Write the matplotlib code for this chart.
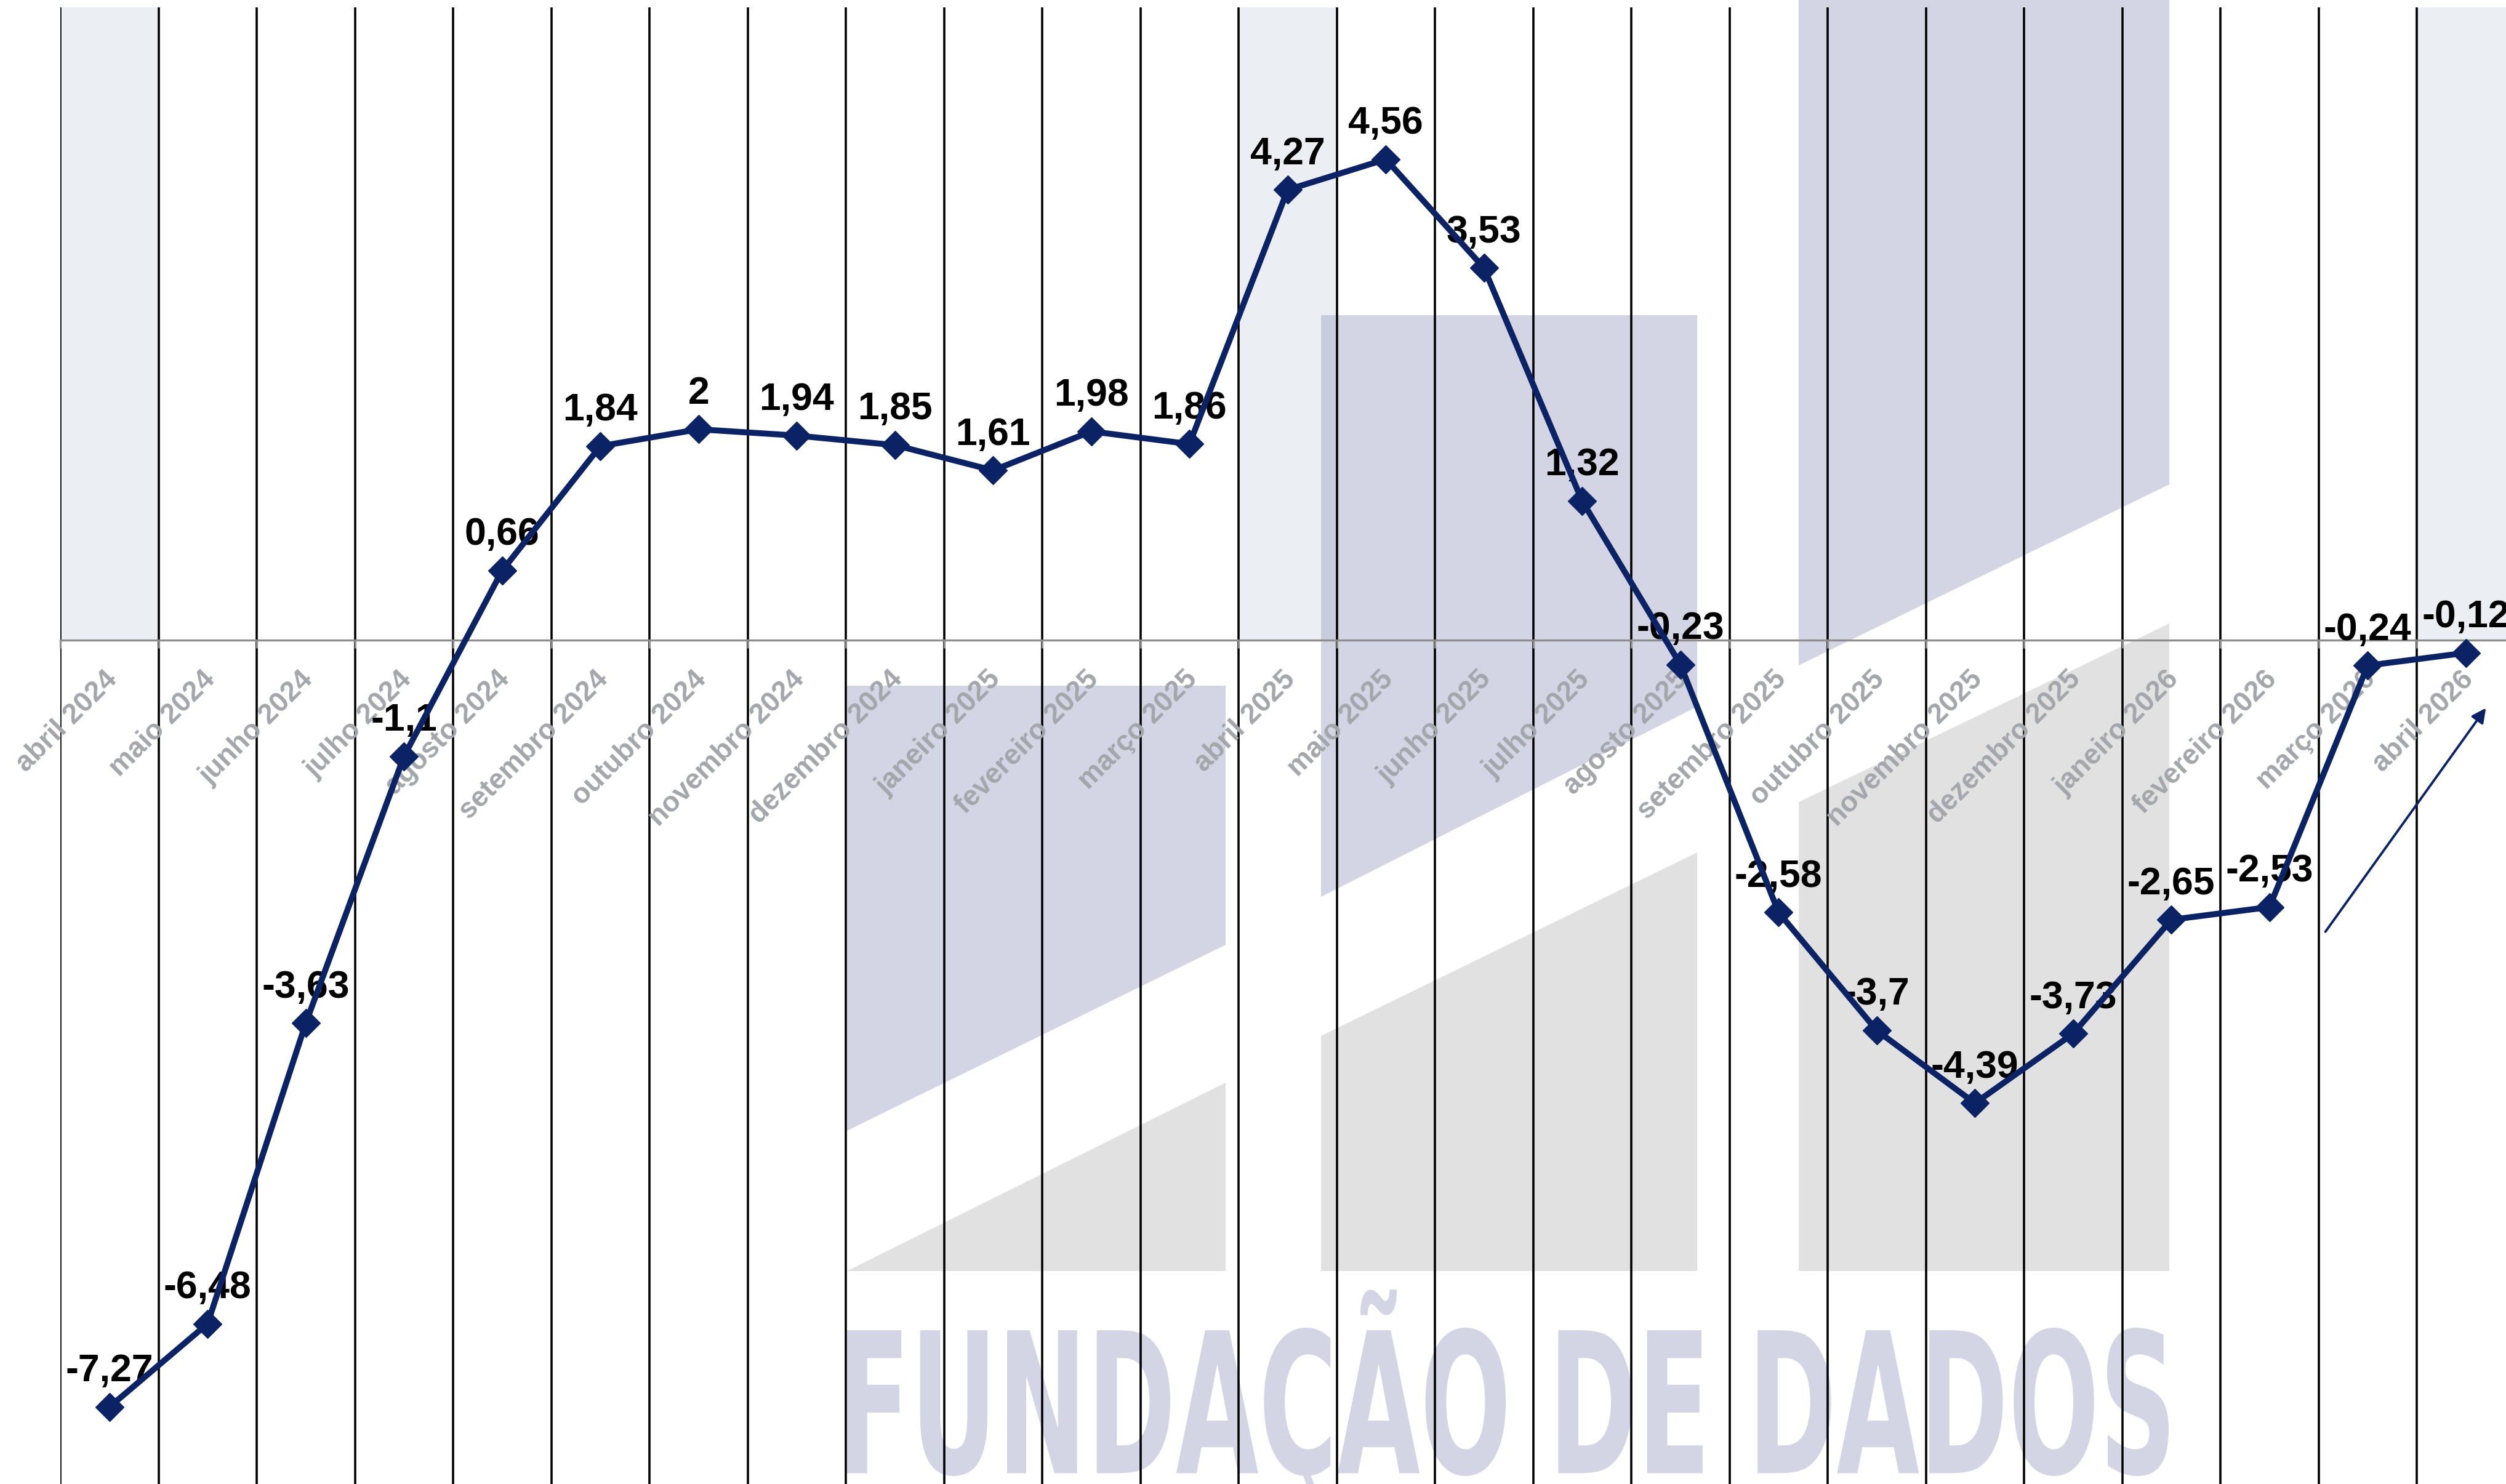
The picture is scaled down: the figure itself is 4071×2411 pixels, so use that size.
import numpy as np
import matplotlib
matplotlib.use("Agg")
import matplotlib.pyplot as plt
from matplotlib.patches import Polygon, PathPatch
from matplotlib.textpath import TextPath
from matplotlib.font_manager import FontProperties
from matplotlib.transforms import Affine2D

# data
months = ['abril 2024', 'maio 2024', 'junho 2024', 'julho 2024', 'agosto 2024',
          'setembro 2024', 'outubro 2024', 'novembro 2024', 'dezembro 2024',
          'janeiro 2025', 'fevereiro 2025', 'março 2025', 'abril 2025', 'maio 2025',
          'junho 2025', 'julho 2025', 'agosto 2025', 'setembro 2025', 'outubro 2025',
          'novembro 2025', 'dezembro 2025', 'janeiro 2026', 'fevereiro 2026',
          'março 2026', 'abril 2026']
values = [-7.27, -6.48, -3.63, -1.1, 0.66, 1.84, 2, 1.94, 1.85, 1.61, 1.98, 1.86,
          4.27, 4.56, 3.53, 1.32, -0.23, -2.58, -3.7, -4.39, -3.73, -2.65, -2.53,
          -0.24, -0.12]

NAVY = '#0b2265'
LAVENDER = '#d3d5e4'
LOGO_GRAY = '#e1e1e1'

plt.rcParams['font.family'] = ['Liberation Sans', 'DejaVu Sans']

W, H = 4071, 2411
fig = plt.figure(figsize=(W / 100, H / 100), dpi=100)
ax = fig.add_axes([98 / W, 0.0, (4085.5 - 98) / W, (H - 12) / H])
ax.set_xlim(-0.5, len(months) - 0.5)
ax.set_ylim(-8, 6)
ax.set_facecolor('none')

def fig_xy(x, y):
    # pixel coords (y down) -> figure fraction
    return (x / W, 1 - y / H)

# watermark logo (decoration, in figure pixels)
logo_shapes = [
    ([(1376, 1114), (1991, 1114), (1991, 1535), (1376, 1837)], LAVENDER),
    ([(1376, 2065), (1991, 2065), (1991, 1759)], LOGO_GRAY),
    ([(2146, 512), (2757, 512), (2757, 1148), (2146, 1457)], LAVENDER),
    ([(2146, 2065), (2757, 2065), (2757, 1385), (2146, 1683)], LOGO_GRAY),
    ([(2922, 0), (3524, 0), (3524, 787), (2922, 1081)], LAVENDER),
    ([(2922, 2065), (3524, 2065), (3524, 1013), (2922, 1303)], LOGO_GRAY),
]
for pts, col in logo_shapes:
    poly = Polygon([fig_xy(x, y) for x, y in pts], closed=True, facecolor=col,
                   edgecolor='none', transform=fig.transFigure, zorder=0.3, clip_on=False)
    ax.add_patch(poly)

fp = FontProperties(family='DejaVu Sans', weight='bold')
ref = TextPath((0, 0), 'FUNDACAO DE DADOS', size=100, prop=fp).get_extents()
tp = TextPath((0, 0), 'FUNDAÇÃO DE DADOS', size=100, prop=fp)
x0, x1, y0, y1 = 1376, 3523, 2398, 2157
sx = (x1 - x0) / ref.width
sy = (y0 - y1) / ref.height
trf = (Affine2D().translate(-ref.x0, -ref.y0).scale(sx / W, sy / H)
       .translate(x0 / W, (H - y0) / H) + fig.transFigure)
ax.add_patch(PathPatch(tp, facecolor=LAVENDER, edgecolor='none', transform=trf,
                       zorder=0.3, clip_on=False))

x = np.arange(len(months))

# shaded april columns (above zero)
shaded = [i for i, m in enumerate(months) if m.startswith('abril')]
ax.bar(shaded, [6] * len(shaded), width=1, bottom=0, color='#9bafc3', alpha=0.2,
       zorder=0.4, linewidth=0)

# column separators
ax.set_xticks(np.arange(len(months) + 1) - 0.5)
ax.set_xticklabels([])
ax.xaxis.grid(True, which='major', color='black', linewidth=2.6)
ax.tick_params(axis='x', which='major', color='#8c8c8c', length=9, width=2.2, direction='out')

# month labels, rotated, hanging below the zero line
for xi, m in zip(x, months):
    ax.annotate(m, (xi, 0), xytext=(4, -41), textcoords='offset points',
                rotation=45, ha='right', va='center', rotation_mode='anchor',
                fontsize=33, fontweight='bold', color='#a3a6aa', zorder=2.6,
                annotation_clip=False)

ax.set_yticks([])
for side in ['top', 'left', 'right']:
    ax.spines[side].set_visible(False)
ax.spines['bottom'].set_position(('data', 0))
ax.spines['bottom'].set_color('#8c8c8c')
ax.spines['bottom'].set_linewidth(2.3)

ax.plot(x, values, color=NAVY, lw=7, marker='D', markersize=23, zorder=3,
        solid_joinstyle='round')

for xi, v in zip(x, values):
    ax.annotate(f'{v:g}'.replace('.', ','), (xi, v), xytext=(0, 30),
                textcoords='offset points', ha='center', va='baseline',
                fontsize=45, fontweight='bold', color='black', zorder=2.7,
                annotation_clip=False)

ax.annotate('', xy=fig_xy(4040, 1148), xytext=fig_xy(3776, 1516),
            xycoords='figure fraction', textcoords='figure fraction',
            arrowprops=dict(arrowstyle='-|>', color=NAVY, lw=2.8, mutation_scale=35))

fig.savefig('out.png', dpi=100)
